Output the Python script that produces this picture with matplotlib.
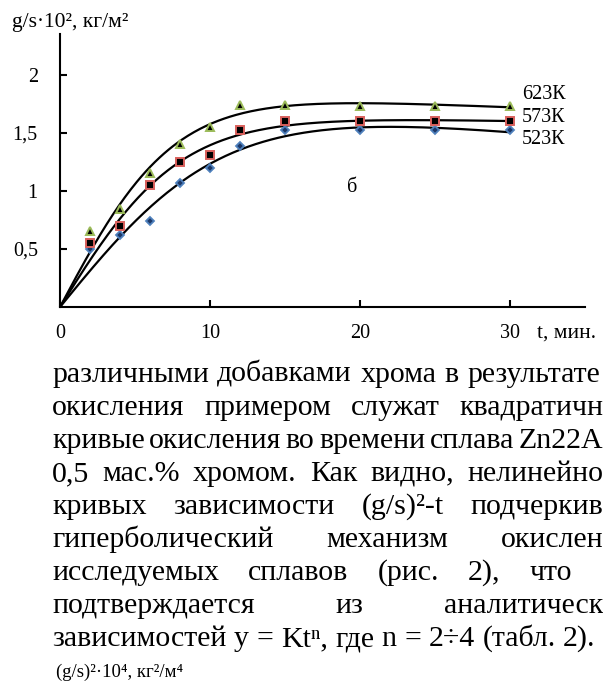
import matplotlib
matplotlib.use("Agg")
import matplotlib.pyplot as plt
import numpy as np

plt.rcParams['font.family'] = ['Liberation Serif', 'DejaVu Serif']

# oxidation time, min
t = np.array([2, 4, 6, 8, 10, 12, 15, 20, 25, 30])

# specific mass gain g/s*10^2, kg/m^2
y523 = np.array([0.50, 0.62, 0.74, 1.07, 1.20, 1.39, 1.52, 1.52, 1.52, 1.52])
y573 = np.array([0.55, 0.70, 1.05, 1.25, 1.31, 1.52, 1.60, 1.60, 1.60, 1.60])
y623 = np.array([0.65, 0.84, 1.15, 1.40, 1.55, 1.74, 1.74, 1.73, 1.73, 1.73])

series_names = ["523К", "573К", "623К"]
xticks = [0, 10, 20, 30]
xtick_labels = ["0", "10", "20", "30"]
yticks = [0.5, 1, 1.5, 2]
ytick_labels = ["0,5", "1", "1,5", "2"]

# paragraph under the figure, one entry per printed line
body_lines = [
    ["различными", "добавками", "хрома", "в", "результате"],
    ["окисления", "примером", "служат", "квадратичные"],
    ["кривые", "окисления", "во", "времени", "сплава", "Zn22Al"],
    ["0,5", "мас.%", "хромом.", "Как", "видно,", "нелинейность"],
    ["кривых", "зависимости", "(g/s)²-t", "подчеркивает"],
    ["гиперболический", "механизм", "окисления"],
    ["исследуемых", "сплавов", "(рис.", "2),", "что"],
    ["подтверждается", "из", "аналитических"],
    ["зависимостей", "y", "=", "Ktⁿ,", "где", "n", "=", "2÷4", "(табл.", "2)."],
]
# how each line is set: right end in px, part of the last word left of
# the page edge, or plain spacing for the paragraph's last line
line_fit = [
    ("end", 600), ("cut", "квадратичн"), ("cut", "Zn22A"), ("cut", "нелинейно"),
    ("cut", "подчеркив"), ("cut", "окислен"), ("end", 572), ("cut", "аналитическ"),
    ("free", None),
]


def trend(x, y):
    # least squares A*tanh(t/tau) + B*t through the origin, tau picked on a grid
    best = None
    for tau in np.linspace(2, 15, 261):
        A = np.vstack([np.tanh(x/tau), x]).T
        c, res = np.linalg.lstsq(A, y, rcond=None)[:2]
        err = np.sum((A @ c - y)**2)
        if best is None or err < best[0]:
            best = (err, tau, c)
    _, tau, c = best
    xx = np.linspace(0, 30, 300)
    return xx, c[0]*np.tanh(xx/tau) + c[1]*xx


W, H = 603, 691
fig = plt.figure(figsize=(W/100, H/100), dpi=100)
ax = fig.add_axes([60/W, 1 - 307/H, 525/W, 273/H])

for yy in (y523, y573, y623):
    xx, ff = trend(t, yy)
    ax.plot(xx, ff, color='black', lw=1.6, zorder=2)

ax.plot(t, y523, 'D', ms=4.5, mfc='#1c3766', mec='#4f81bd', mew=1.3, zorder=3)
ax.plot(t, y573, 's', ms=5.5, mfc='black', mec='#d9605c', mew=1.4, zorder=3)
ax.plot(t, y623, '^', ms=6, mfc='black', mec='#9bbb59', mew=1.4, zorder=3)

ax.set_xlim(0, 35)
ax.set_ylim(0, 2.35)
ax.spines['top'].set_visible(False)
ax.spines['right'].set_visible(False)
ax.spines['left'].set_linewidth(1.5)
ax.spines['bottom'].set_linewidth(1.5)
ax.set_xticks(xticks)
ax.set_xticklabels(xtick_labels)
ax.set_yticks(yticks)
ax.set_yticklabels(ytick_labels)
ax.tick_params(direction='in', length=5, width=1.5, labelsize=14.5)
ax.tick_params(axis='x', pad=12)
ax.tick_params(axis='y', pad=16)

# curve labels at the right end
for name, yy, dy in zip(series_names, (y523, y573, y623), (-0.08, 0.03, 0.10)):
    ax.text(30.8, yy[-1] + dy, name, fontsize=14.5, va='center', ha='left')

ax.text(19.5, 1.03, "б", fontsize=14.5, va='center', ha='center')
ax.text(31.8, -0.22, "t, мин.", fontsize=15.5, va='center', ha='left', clip_on=False)

fig.text(12/W, 1 - 27/H, "g/s·10², кг/м²", fontsize=15.5, va='baseline')

# paragraph, justified line by line
fs = 21.5
renderer = fig.canvas.get_renderer()


def text_w(s):
    tt = fig.text(0, 0, s, fontsize=fs)
    w = tt.get_window_extent(renderer).width
    tt.remove()
    return w


left = 52
y0, step = 382, 33
space = text_w("а а") - 2*text_w("а")
for i, (words, (mode, val)) in enumerate(zip(body_lines, line_fit)):
    widths = [text_w(w) for w in words]
    if mode == "free":
        gap = space
    else:
        if mode == "end":
            last_x = val - widths[-1]
        else:
            last_x = W - text_w(val)
        gap = (last_x - left - sum(widths[:-1])) / (len(words) - 1)
    x = left
    for w, wd in zip(words, widths):
        fig.text(x/W, 1 - (y0 + step*i)/H, w, fontsize=fs, va='baseline')
        x += wd + gap

fig.text(56/W, 1 - 677/H, "(g/s)²·10⁴, кг²/м⁴", fontsize=13.5, va='baseline')

fig.savefig("out.png", dpi=100)
